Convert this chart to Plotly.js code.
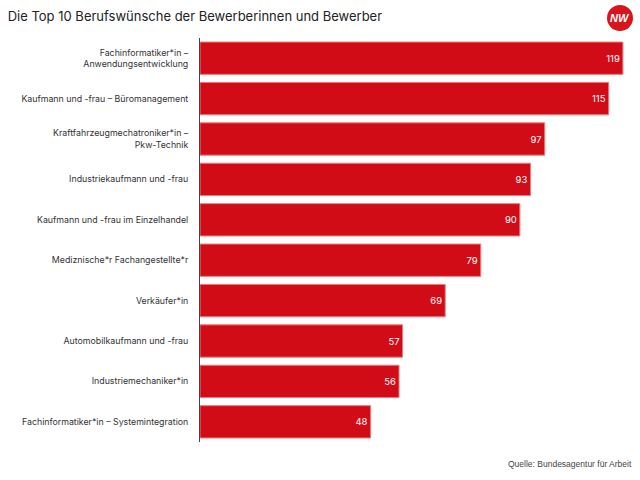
<!DOCTYPE html>
<html><head><meta charset="utf-8">
<script src="https://cdn.plot.ly/plotly-3.0.1.min.js"></script>
<style>body{margin:0;background:#fff}#chart{width:640px;height:480px}</style>
</head><body><div id="chart"></div>
<script>
const categories = [
  "Fachinformatiker*in –<br>Anwendungsentwicklung",
  "Kaufmann und -frau – Büromanagement",
  "Kraftfahrzeugmechatroniker*in –<br>Pkw-Technik",
  "Industriekaufmann und -frau",
  "Kaufmann und -frau im Einzelhandel",
  "Mediznische*r Fachangestellte*r",
  "Verkäufer*in",
  "Automobilkaufmann und -frau",
  "Industriemechaniker*in",
  "Fachinformatiker*in – Systemintegration"
];
const values = [119, 115, 97, 93, 90, 79, 69, 57, 56, 48];

const trace = {
  type: 'bar', orientation: 'h',
  x: values, y: categories,
  marker: {color: '#d20c16', line: {color: '#f0787c', width: 1}},
  text: values.map(String), textposition: 'inside', insidetextanchor: 'end',
  textfont: {color: '#ffffff', size: 9.5, family: 'Inter, Roboto, sans-serif'},
  hoverinfo: 'none', cliponaxis: false
};
const layout = {
  width: 640, height: 480,
  margin: {l: 200, r: 10, t: 38, b: 38},
  paper_bgcolor: '#ffffff', plot_bgcolor: '#ffffff',
  bargap: 0.2,
  showlegend: false,
  font: {family: 'Inter, Roboto, sans-serif', color: '#333333'},
  title: {text: 'Die Top 10 Berufswünsche der Bewerberinnen und Bewerber', x: 0.012, xanchor: 'left', y: 0.965, yanchor: 'middle',
          font: {size: 13, color: '#222222', family: 'Inter, Roboto, sans-serif'}},
  xaxis: {range: [0, 121], showgrid: false, zeroline: false, showticklabels: false, showline: false, fixedrange: true},
  yaxis: {autorange: 'reversed', showgrid: false, zeroline: false, showline: true, linecolor: '#444444', linewidth: 1,
          ticks: '', ticklabelstandoff: 9, tickfont: {size: 8.8, color: '#333333', family: 'Inter, Roboto, sans-serif'}},
  annotations: [
    {text: 'Quelle: Bundesagentur für Arbeit', xref: 'paper', yref: 'paper', x: 1.01, y: -0.055, xanchor: 'right', yanchor: 'middle',
     showarrow: false, font: {size: 8.5, color: '#444444', family: 'Liberation Sans, Arial, sans-serif'}}
  ]
};
Plotly.newPlot('chart', [trace], layout, {staticPlot: true}).then(() => {
  const fl = document.getElementById('chart')._fullLayout;
  const pw = fl._size.w, ph = fl._size.h, l = fl._size.l, t = fl._size.t;
  const px = x => (x - l) / pw, py = y => 1 - (y - t) / ph;
  Plotly.relayout('chart', {
    shapes: [{type: 'circle', xref: 'paper', yref: 'paper', x0: px(607), x1: px(633), y0: py(5), y1: py(31),
              fillcolor: '#d8141c', line: {width: 0}}],
    annotations: layout.annotations.concat([
      {text: '<b><i>NW</i></b>', xref: 'paper', yref: 'paper', x: px(620), y: py(18), xanchor: 'center', yanchor: 'middle',
       showarrow: false, font: {size: 11, color: '#ffffff', family: 'Liberation Sans, Arial, sans-serif'}}
    ])
  });
});
</script></body></html>
